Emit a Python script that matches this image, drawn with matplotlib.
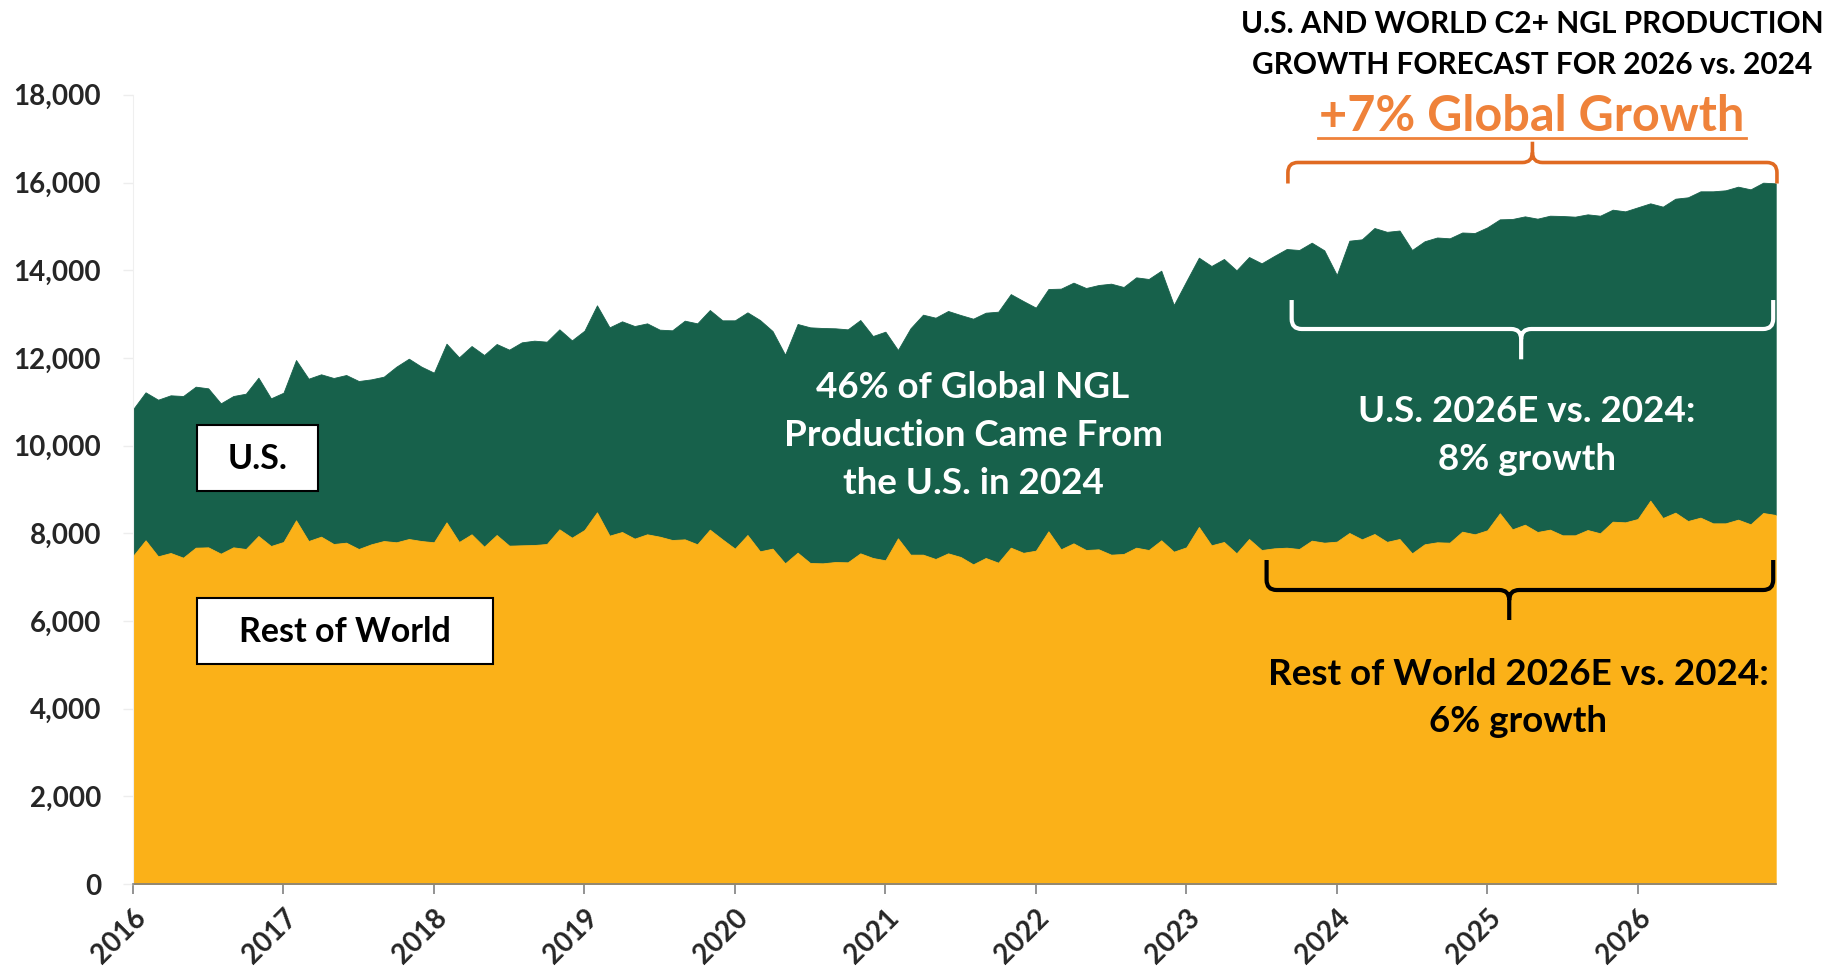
import matplotlib
matplotlib.use("Agg")
import matplotlib.pyplot as plt
from matplotlib.path import Path
from matplotlib.patches import PathPatch, Rectangle
from matplotlib.lines import Line2D
import numpy as np

# ---------------- data (thousand b/d, monthly Jan-2016 .. Dec-2026) ----------------
years = ["2016", "2017", "2018", "2019", "2020", "2021", "2022", "2023", "2024", "2025", "2026"]

rest_of_world = [7482, 7840, 7475, 7551, 7444, 7672, 7680, 7535, 7680, 7642, 7938, 7710,
                 7802, 8296, 7824, 7923, 7756, 7786, 7642, 7749, 7824, 7795, 7870, 7824,
                 7795, 8250, 7802, 7977, 7695, 7961, 7718, 7726, 7733, 7756, 8090, 7900,
                 8075, 8478, 7946, 8030, 7878, 7977, 7923, 7847, 7862, 7749, 8083, 7862,
                 7650, 7961, 7589, 7650, 7315, 7558, 7323, 7315, 7345, 7338, 7543, 7437,
                 7384, 7885, 7513, 7513, 7414, 7543, 7460, 7292, 7437, 7330, 7672, 7555,
                 7604, 8045, 7635, 7771, 7619, 7635, 7513, 7528, 7672, 7619, 7840, 7581,
                 7680, 8144, 7726, 7802, 7543, 7870, 7619, 7657, 7672, 7642, 7832, 7786,
                 7809, 8007, 7862, 7984, 7805, 7870, 7543, 7749, 7795, 7786, 8037, 7977,
                 8068, 8456, 8090, 8196, 8030, 8083, 7954, 7954, 8075, 8000, 8265, 8250,
                 8326, 8744, 8349, 8471, 8280, 8357, 8227, 8227, 8311, 8205, 8463, 8418]

us = [3346, 3375, 3572, 3596, 3687, 3672, 3626, 3429, 3451, 3542, 3611, 3368,
      3405, 3656, 3702, 3703, 3786, 3824, 3831, 3762, 3748, 4005, 4112, 3976,
      3868, 4074, 4211, 4294, 4371, 4356, 4470, 4629, 4660, 4614, 4561, 4500,
      4546, 4721, 4751, 4804, 4849, 4811, 4721, 4782, 4987, 5039, 5009, 4995,
      5207, 5078, 5275, 4963, 4758, 5215, 5374, 5367, 5330, 5313, 5321, 5062,
      5214, 4295, 5162, 5473, 5503, 5527, 5518, 5602, 5594, 5724, 5783, 5742,
      5542, 5526, 5944, 5945, 5975, 6027, 6180, 6089, 6165, 6181, 6149, 5625,
      6070, 6142, 6370, 6454, 6454, 6431, 6538, 6667, 6811, 6819, 6796, 6667,
      6081, 6666, 6842, 6978, 7070, 7035, 6918, 6911, 6951, 6941, 6823, 6871,
      6909, 6704, 7078, 7032, 7145, 7160, 7282, 7267, 7199, 7243, 7115, 7092,
      7108, 6781, 7100, 7160, 7382, 7442, 7572, 7595, 7594, 7639, 7533, 7563]

y_ticks = list(range(0, 18001, 2000))

GREEN = "#17614B"
YELLOW = "#FBB118"
ORANGE_TXT = "#EF823A"
ORANGE = "#E06A22"
DARK = "#262626"

plt.rcParams["font.family"] = ["Lato", "DejaVu Sans"]
plt.rcParams["font.weight"] = "bold"

W, H = 1839, 973
fig = plt.figure(figsize=(W / 100, H / 100), dpi=100)
ax = fig.add_axes([133 / W, (H - 884.1) / H, 1642.7 / W, 789.3 / H])

months = np.arange(len(us))
row = np.array(rest_of_world, dtype=float)
tot = row + np.array(us, dtype=float)

ax.fill_between(months, row, tot, color=GREEN, lw=0.6, zorder=1)
ax.fill_between(months, 0, row, color=YELLOW, lw=0.6, zorder=2)

ax.set_xlim(0, len(us) - 1)
ax.set_ylim(0, 18000)

ax.set_yticks(y_ticks)
ax.set_yticklabels([f"{v:,}" for v in y_ticks], fontsize=20, fontweight="bold", color=DARK)
ax.set_xticks(np.arange(0, len(us), 12))
ax.set_xticklabels(years, fontsize=20, fontweight="bold", color=DARK,
                   rotation=45, ha="right", va="top", rotation_mode="anchor")

ax.tick_params(axis="y", length=7, width=1, color="#EDEDED", pad=16)
ax.tick_params(axis="x", length=7, width=1.2, color="#808080", pad=8)

for s in ["top", "right"]:
    ax.spines[s].set_visible(False)
ax.spines["left"].set_color("#EFEFEF")
ax.spines["bottom"].set_color("#808080")
ax.spines["bottom"].set_linewidth(1.2)
ax.spines["bottom"].set_zorder(5)


# ---------------- braces (in data coordinates) ----------------
def brace(x0, x1, xm, yh, yend, ytip, color, lw):
    rx = 0.8      # months
    ry = 230.0    # value units
    se = 1 if yend > yh else -1
    st = 1 if ytip > yh else -1
    verts = [(x0, yend), (x0, yh + se * ry), (x0, yh), (x0 + rx, yh),
             (xm - rx, yh), (xm, yh), (xm, yh + st * ry), (xm, ytip),
             (x1, yend), (x1, yh + se * ry), (x1, yh), (x1 - rx, yh),
             (xm + rx, yh), (xm, yh), (xm, yh + st * ry)]
    codes = [Path.MOVETO, Path.LINETO, Path.CURVE3, Path.CURVE3,
             Path.LINETO, Path.CURVE3, Path.CURVE3, Path.LINETO,
             Path.MOVETO, Path.LINETO, Path.CURVE3, Path.CURVE3,
             Path.LINETO, Path.CURVE3, Path.CURVE3]
    ax.add_patch(PathPatch(Path(verts, codes), fill=False, edgecolor=color, lw=lw,
                           zorder=6, clip_on=False, joinstyle="round"))


brace(92.1, 131.1, 111.6, 16456, 15977, 16930, ORANGE, 2.6)
brace(92.4, 130.8, 110.7, 12659, 13320, 11968, "white", 3.0)
brace(90.4, 130.8, 109.75, 6707, 7391, 6023, "black", 3.0)


# ---------------- texts (figure pixel positions) ----------------
def fx(x):
    return x / W


def fy(y):
    return 1 - y / H


def txt(x, y, s, size, color, ha="center", va="baseline"):
    fig.text(fx(x), fy(y), s, fontsize=size, fontweight="bold", color=color,
             ha=ha, va=va, zorder=10)


# title
txt(1532, 32.8, "U.S. AND WORLD C2+ NGL PRODUCTION", 21.5, "black")
txt(1532, 74, "GROWTH FORECAST FOR 2026 vs. 2024", 21.5, "black")
txt(1532, 131, "+7% Global Growth", 35, ORANGE_TXT)
fig.add_artist(Line2D([fx(1318), fx(1746)], [fy(137.5), fy(137.5)], color=ORANGE_TXT, lw=2))

# center annotation
txt(973, 398, "46% of Global NGL", 26.5, "white")
txt(973, 446, "Production Came From", 26.5, "white")
txt(973, 494, "the U.S. in 2024", 26.5, "white")

# U.S. growth
txt(1527, 422, "U.S. 2026E vs. 2024:", 26.5, "white")
txt(1527, 470, "8% growth", 26.5, "white")

# RoW growth
txt(1518, 685, "Rest of World 2026E vs. 2024:", 26.5, "black")
txt(1518, 732, "6% growth", 26.5, "black")

# label boxes
for (x0, y0, x1, y1, s) in [(197.3, 425, 317.7, 491, "U.S."),
                            (197.3, 598.3, 492.7, 664.3, "Rest of World")]:
    fig.add_artist(Rectangle((fx(x0), fy(y1)), fx(x1) - fx(x0), fy(y0) - fy(y1),
                             facecolor="white", edgecolor="black", lw=1.5, zorder=8))
    txt((x0 + x1) / 2, (y0 + y1) / 2 + 1, s, 24.5, "black", va="center")

fig.savefig("out.png", dpi=100, facecolor="white")
